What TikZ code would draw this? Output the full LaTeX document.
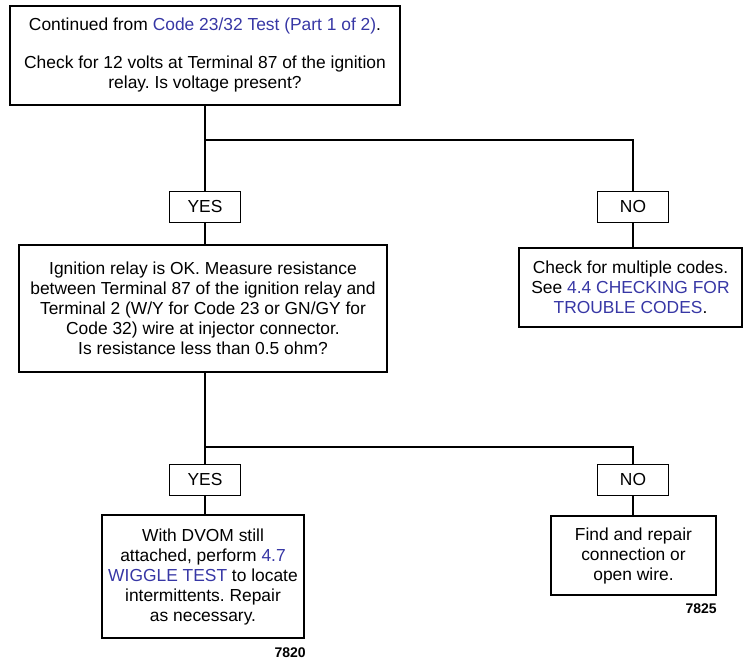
\documentclass[tikz,border=0pt]{standalone}
\usepackage{fontspec}
\setmainfont{Liberation Sans}
\usetikzlibrary{positioning}
\definecolor{linkblue}{RGB}{55,55,165}
\newcommand{\lnk}[1]{\textcolor{linkblue}{#1}}
\frenchspacing

\begin{document}
\begin{tikzpicture}[x=1pt,y=-1pt,
  every node/.style={font=\fontsize{17.4}{20}\selectfont},
  stepbox/.style={draw,line width=1.8pt,align=center,inner sep=0pt},
  tag/.style={draw,line width=1.8pt,minimum width=71pt,minimum height=31pt,inner sep=0pt},
  figno/.style={font=\fontsize{14}{16}\selectfont\bfseries,inner sep=0pt},
  wire/.style={line width=1.8pt}]
\useasboundingbox (0,0) rectangle (745,663);

% question boxes
\node[stepbox,minimum width=390pt,minimum height=99pt] (start) at (205,55.5)
  {Continued from \lnk{Code 23/32 Test (Part 1 of 2)}.\\[18pt]
   Check for 12 volts at Terminal 87 of the ignition\\relay. Is voltage present?};
\node[stepbox,minimum width=368pt,minimum height=127pt] (relayok) at (203,308.5)
  {Ignition relay is OK. Measure resistance\\
   between Terminal 87 of the ignition relay and\\
   Terminal 2 (W/Y for Code 23 or GN/GY for\\
   Code 32) wire at injector connector.\\
   Is resistance less than 0.5 ohm?};
\node[stepbox,minimum width=223pt,minimum height=79pt] (multi) at (630.5,287.5)
  {Check for multiple codes.\\See \lnk{4.4 CHECKING FOR}\\\lnk{TROUBLE CODES}.};
\node[stepbox,minimum width=202pt,minimum height=123pt] (wiggle) at (203,576.5)
  {With DVOM still\\attached, perform \lnk{4.7}\\\lnk{WIGGLE TEST} to locate\\
   intermittents. Repair\\as necessary.};
\node[stepbox,minimum width=165pt,minimum height=79pt] (repair) at (633.5,555.5)
  {Find and repair\\connection or\\open wire.};

% answers
\node[tag] (yes1) at (205,207) {YES};
\node[tag] (no1) at (633,207) {NO};
\node[tag] (yes2) at (205,480) {YES};
\node[tag] (no2) at (633,480) {NO};

\coordinate (split1) at (205,140);
\coordinate (split2) at (205,447);

\draw[wire] (start.south) -- (yes1.north);
\draw[wire] (split1) -| (no1.north);
\draw[wire] (yes1.south) -- (relayok.north -| yes1.south);
\draw[wire] (no1.south) -- (multi.north -| no1.south);
\draw[wire] (relayok.south -| yes2.north) -- (yes2.north);
\draw[wire] (split2) -| (no2.north);
\draw[wire] (yes2.south) -- (wiggle.north -| yes2.south);
\draw[wire] (no2.south) -- (repair.north -| no2.south);

\node[figno,below left=9pt and -1pt of wiggle.south east] (fig1) {7820};
\node[figno,below left=8pt and 0pt of repair.south east] (fig2) {7825};
\end{tikzpicture}
\end{document}
